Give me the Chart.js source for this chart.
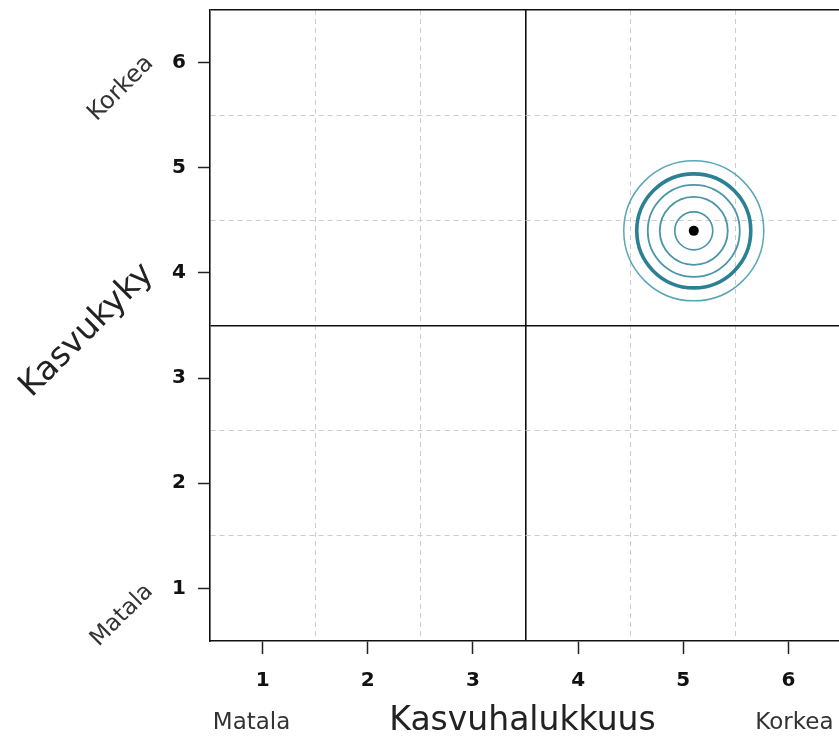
<!DOCTYPE html>
<html>
<head>
<meta charset="utf-8">
<script src="https://cdn.jsdelivr.net/npm/chart.js@4"></script>
<style>
    html, body { margin: 0; padding: 0; background: #fff; overflow: hidden; }
    #wrap { width: 841px; height: 740px; }
</style>
</head>
<body>
<div id="wrap"><canvas id="matrix" width="841" height="740"></canvas></div>
<script>
// Data
const tickValues = [1, 2, 3, 4, 5, 6];
const gridValues = [1.5, 2.5, 4.5, 5.5];
const splitValue = 3.5;
const axisRange = [0.5, 6.5];
const levelLabels = ['Matala', 'Korkea'];
const xTitle = 'Kasvuhalukkuus';
const yTitle = 'Kasvukyky';
const targetX = [5.1];
const targetY = [4.4];

// Rings around the target point (pixel radii / widths are style)
const ringRadii = [70, 57, 46, 34, 19];
const ringWidths = [1.5, 3.6, 1.8, 1.8, 1.6];
const ringColors = ['#5aa7b8', '#2b8094', '#4896a8', '#4896a8', '#4896a8'];

const FONT = "'DejaVu Sans', Verdana, sans-serif";
const CLEAR = 'rgba(0,0,0,0)';

function allTicks() {
    return [axisRange[0], axisRange[1], splitValue].concat(tickValues, gridValues)
        .sort((a, b) => a - b)
        .map(v => ({ value: v }));
}

function gridColor(ctx) {
    if (!ctx.tick) return CLEAR;
    const v = ctx.tick.value;
    if (v === splitValue || v === axisRange[1]) return '#111';
    if (gridValues.includes(v)) return '#cccccc';
    return CLEAR;
}

function gridWidth(ctx) {
    if (!ctx.tick) return 1;
    return ctx.tick.value === splitValue ? 1.6 : (ctx.tick.value === axisRange[1] ? 1.6 : 1);
}

function gridDash(ctx) {
    if (!ctx.tick) return [];
    return gridValues.includes(ctx.tick.value) ? [5, 4] : [];
}

function tickMarkColor(ctx) {
    if (!ctx.tick) return CLEAR;
    return tickValues.includes(ctx.tick.value) ? '#222' : CLEAR;
}

// fixed axis size, no edge padding for end labels
function fixedSize(prop, px) {
    return function(s) {
        s[prop] = px;
        s.paddingTop = 0;
        s.paddingBottom = 0;
        s.paddingLeft = 0;
        s.paddingRight = 0;
    };
}

function axisOptions(pos, fit, tickLen, pad) {
    return {
        type: 'linear',
        position: pos,
        min: axisRange[0],
        max: axisRange[1],
        afterBuildTicks: function(scale) { scale.ticks = allTicks(); },
        afterFit: fit,
        ticks: {
            autoSkip: false,
            maxRotation: 0,
            padding: pad,
            color: '#111',
            font: { family: FONT, size: 20, weight: 'bold' },
            callback: function(value) {
                return tickValues.includes(value) ? String(value) : '';
            }
        },
        grid: {
            color: gridColor,
            lineWidth: gridWidth,
            tickColor: tickMarkColor,
            tickLength: tickLen,
            tickWidth: 1.5
        },
        border: {
            display: true,
            color: '#111',
            width: 1.6,
            dash: gridDash
        }
    };
}

// Rotated and corner labels
const labelPlugin = {
    id: 'matrixLabels',
    afterDraw: function(chart) {
        const ctx = chart.ctx;
        const xs = chart.scales.x;
        const ys = chart.scales.y;
        const left = chart.chartArea.left;

        function text(str, x, y, size, color, angle) {
            ctx.save();
            ctx.translate(x, y);
            ctx.rotate(angle);
            ctx.font = size + 'px ' + FONT;
            ctx.fillStyle = color;
            ctx.textAlign = 'center';
            ctx.textBaseline = 'middle';
            ctx.fillText(str, 0, 0);
            ctx.restore();
        }

        const diag = -Math.PI / 4;
        text(levelLabels[1], left - 89, ys.getPixelForValue(tickValues[5]) + 26, 24, '#333', diag);
        text(levelLabels[0], left - 88, ys.getPixelForValue(tickValues[0]) + 27, 23, '#333', diag);
        text(yTitle, left - 123, ys.getPixelForValue(splitValue) + 5, 33, '#222', diag);

        text(levelLabels[0], xs.getPixelForValue(tickValues[0]) - 11, 723, 23, '#333', 0);
        text(xTitle, xs.getPixelForValue(splitValue) - 3, 721, 33, '#222', 0);
        text(levelLabels[1], xs.getPixelForValue(tickValues[5]) + 6, 723, 23, '#333', 0);
    }
};

const ringSets = ringRadii.map(function(r, i) {
    return {
        type: 'scatter',
        data: targetX.map((x, k) => ({ x: x, y: targetY[k] })),
        pointRadius: r,
        pointHoverRadius: r,
        pointStyle: 'circle',
        backgroundColor: CLEAR,
        borderColor: ringColors[i],
        borderWidth: ringWidths[i],
        pointBorderWidth: ringWidths[i]
    };
});

ringSets.push({
    type: 'scatter',
    data: targetX.map((x, k) => ({ x: x, y: targetY[k] })),
    pointRadius: 5,
    pointStyle: 'circle',
    backgroundColor: '#000',
    borderColor: '#000',
    borderWidth: 0
});

new Chart(document.getElementById('matrix').getContext('2d'), {
    type: 'scatter',
    data: { datasets: ringSets },
    options: {
        responsive: false,
        animation: false,
        events: [],
        layout: { autoPadding: false, padding: { top: 10, right: 0, bottom: 0, left: 0 } },
        scales: {
            x: axisOptions('bottom', fixedSize('height', 99), 13, 15),
            y: axisOptions('left', fixedSize('width', 210), 12, 12)
        },
        plugins: {
            legend: { display: false },
            tooltip: { enabled: false },
            title: { display: false }
        }
    },
    plugins: [labelPlugin]
});
</script>
</body>
</html>
